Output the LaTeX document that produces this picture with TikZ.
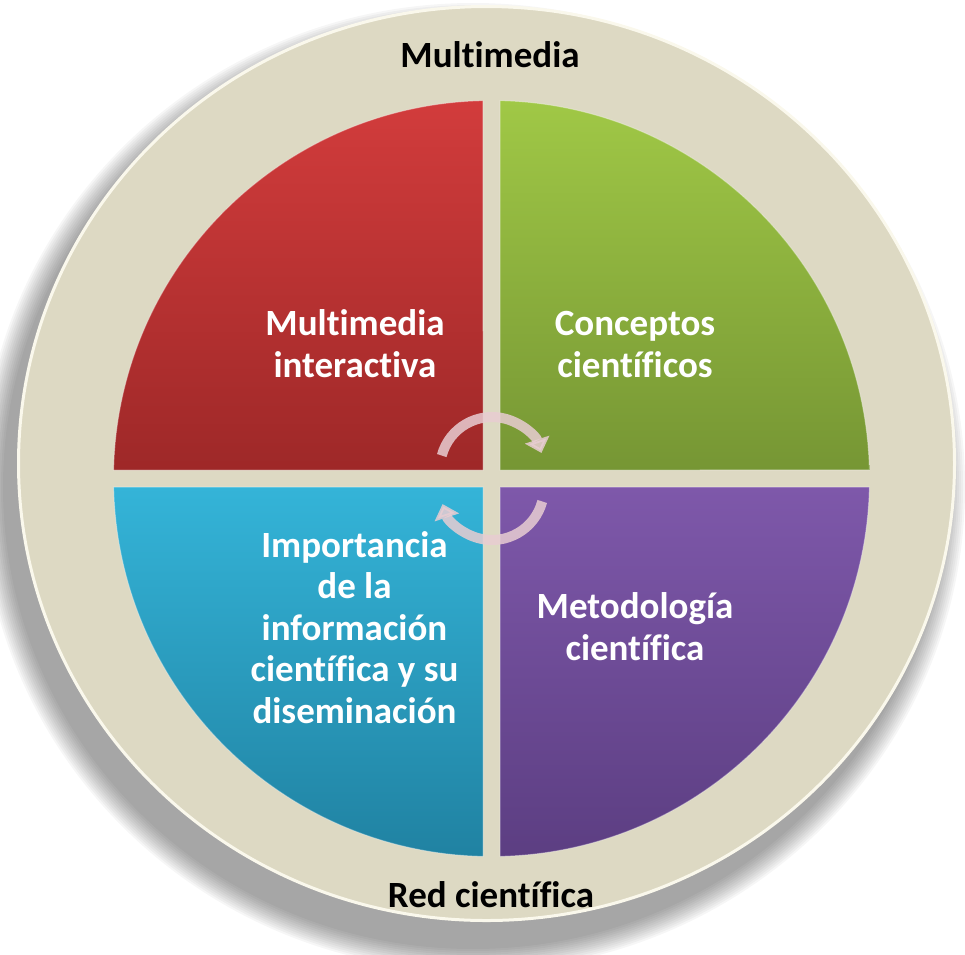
\documentclass[tikz,border=0pt]{standalone}
\usepackage{fontspec}
\setmainfont{Carlito}[Ligatures={NoCommon}]
\usetikzlibrary{arrows.meta}
\definecolor{beige}{RGB}{221,217,195}
\definecolor{rimc}{RGB}{250,248,236}
\definecolor{redT}{RGB}{210,60,60}
\definecolor{redB}{RGB}{158,40,40}
\definecolor{grnT}{RGB}{160,200,70}
\definecolor{grnB}{RGB}{118,150,52}
\definecolor{bluT}{RGB}{52,180,216}
\definecolor{bluB}{RGB}{32,130,162}
\definecolor{purT}{RGB}{126,88,170}
\definecolor{purB}{RGB}{92,62,130}
\definecolor{arcc}{RGB}{232,205,210}
\begin{document}
\begin{tikzpicture}[x=1pt,y=-1pt,
  outertext/.style={font=\fontsize{37}{41.5}\selectfont\bfseries, text=black, inner sep=0pt, anchor=base},
  innertext/.style={font=\fontsize{37}{41.5}\selectfont\bfseries, text=white, inner sep=0pt, align=center, anchor=base},
  quad/.style={draw=white, draw opacity=0.35, line width=1pt},
  cyc/.style={line width=10pt, draw=arcc, opacity=0.85, -{Triangle[width=25pt,length=14pt]}}]
\useasboundingbox (0,0) rectangle (965,954);
% shadow
\foreach \i in {0,...,11} {
  \fill[black, opacity=0.035] (473,487) ellipse [x radius=470+2*\i, y radius=462+2*\i];
}
% beige disk
\fill[beige, draw=rimc, line width=3pt] (486.5,463.5) ellipse [x radius=468, y radius=457];
% quadrants
\path[quad, top color=redT, bottom color=redB]
  (483,470) -- (113.6,470) arc[start angle=181.29, end angle=268.71, radius=378] -- cycle;
\path[quad, top color=grnT, bottom color=grnB]
  (500,470) -- (500,100.6) arc[start angle=271.29, end angle=358.71, radius=378] -- cycle;
\path[quad, top color=bluT, bottom color=bluB]
  (483,487) -- (483,856.4) arc[start angle=91.29, end angle=178.71, radius=378] -- cycle;
\path[quad, top color=purT, bottom color=purB]
  (500,487) -- (869.4,487) arc[start angle=1.29, end angle=88.71, radius=378] -- cycle;
% cycle arrows
\coordinate (ctop) at (492,469);
\coordinate (cbot) at (492,488);
\draw[cyc] (ctop) ++(195:52) arc[start angle=195, end angle=342, radius=52];
\draw[cyc] (cbot) ++(15:52) arc[start angle=15, end angle=162, radius=52];
% texts
\node[outertext] (top) at (490,67) {Multimedia};
\node[outertext] (bot) at (491,907) {Red científica};
\node[innertext] (q1) at (355,377) {Multimedia\\interactiva};
\node[innertext] (q2) at (635,377) {Conceptos\\científicos};
\node[innertext] (q3) at (354.5,723) {Importancia\\de la\\información\\científica y su\\diseminación};
\node[innertext] (q4) at (635,660) {Metodología\\científica};
\end{tikzpicture}
\end{document}
